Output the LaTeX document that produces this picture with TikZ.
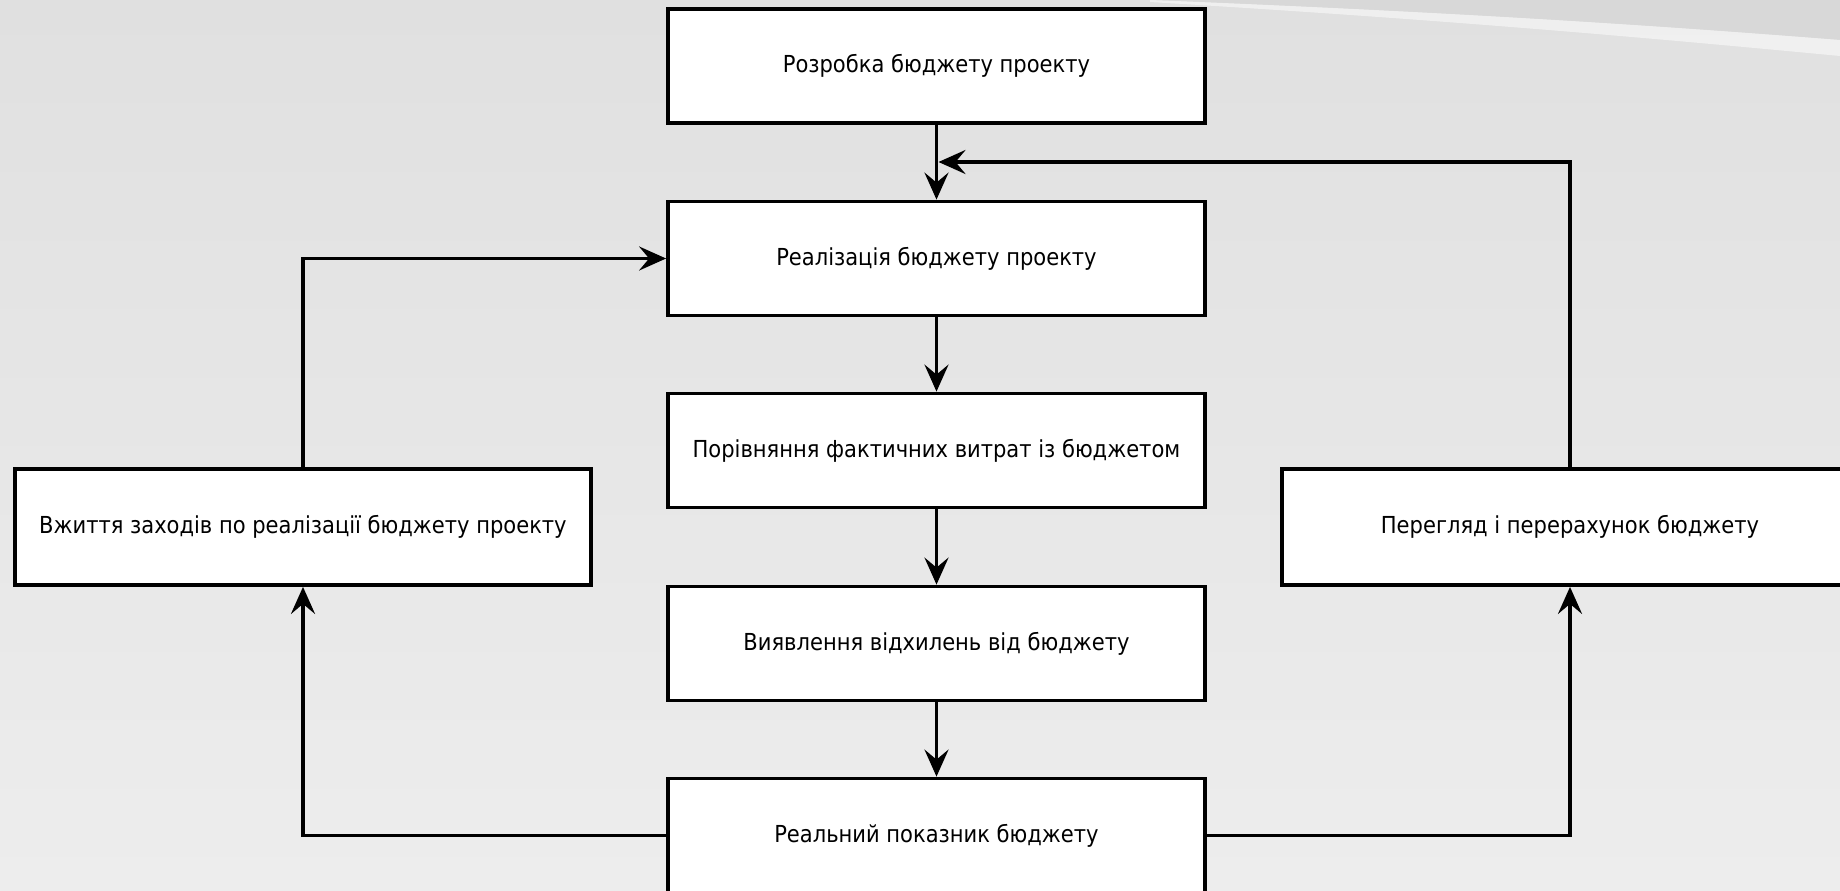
\documentclass[tikz,border=0pt]{standalone}
\usepackage{fontspec}
\setmainfont{DejaVu Sans Condensed}
\usetikzlibrary{arrows.meta}
\definecolor{bgtop}{HTML}{E0E0E0}
\definecolor{bgbot}{HTML}{EDEDED}
\definecolor{bgdark}{HTML}{D8D8D8}
\begin{document}
\begin{tikzpicture}[x=1pt,y=-1pt,
  box/.style={draw=black, fill=white, line width=3.8pt, minimum width=537pt, minimum height=114pt,
    inner sep=0pt, font=\fontsize{23.4}{26}\selectfont},
  sidebox/.style={box, minimum width=576pt, minimum height=116pt},
  conn/.style={line width=3.5pt, -{Stealth[length=27pt,width=24pt,inset=10pt]}}]
\useasboundingbox (0,0) rectangle (1840,891);
\shade[top color=bgtop, bottom color=bgbot] (0,0) rectangle (1840,891);
\fill[bgdark] (1150,0) .. controls (1450,12) and (1650,25) .. (1840,40) -- (1840,0) -- cycle;
\fill[white, opacity=0.5] (1150,0) .. controls (1450,12) and (1650,25) .. (1840,40)
  -- (1840,56) .. controls (1650,38) and (1450,20) .. (1150,2) -- cycle;

\node[box] (b1) at (936.5,66) {Розробка бюджету проекту};
\node[box] (b2) at (936.5,258.5) {Реалізація бюджету проекту};
\node[box] (b3) at (936.5,450.5) {Порівняння фактичних витрат із бюджетом};
\node[box] (b4) at (936.5,643.5) {Виявлення відхилень від бюджету};
\node[box] (b5) at (936.5,835.5) {Реальний показник бюджету};
\node[sidebox] (lb) at (303,527) {Вжиття заходів по реалізації бюджету проекту};
\node[sidebox] (rb) at (1570,527) {Перегляд і перерахунок бюджету};
\coordinate (fb) at (938.5,162);

\draw[conn] (b1.south) -- (b2.north);
\draw[conn] (b2.south) -- (b3.north);
\draw[conn] (b3.south) -- (b4.north);
\draw[conn] (b4.south) -- (b5.north);
\draw[conn] (b5.west) -| (lb.south);
\draw[conn] (lb.north) |- (b2.west);
\draw[conn] (b5.east) -| (rb.south);
\draw[conn] (rb.north) |- (fb);
\end{tikzpicture}
\end{document}
